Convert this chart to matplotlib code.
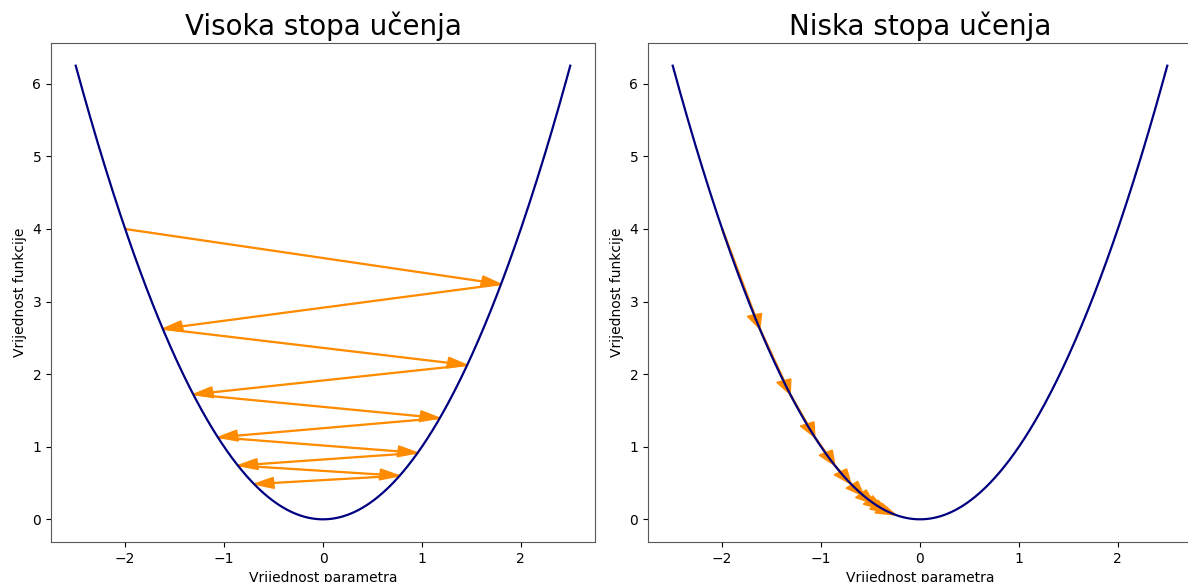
import numpy as np
import matplotlib.pyplot as plt

# parameter values visited by gradient descent
steps_high = [-2.0, 1.8, -1.62, 1.458, -1.312, 1.181, -1.063, 0.957, -0.861, 0.775, -0.697]
steps_low = [-2.0, -1.62, -1.312, -1.063, -0.861, -0.697, -0.565, -0.458, -0.371, -0.300, -0.243]
titles = ["Visoka stopa učenja", "Niska stopa učenja"]
x_label = "Vrijednost parametra"
y_label = "Vrijednost funkcije"


def f(x):
    return x ** 2


xs = np.linspace(-2.5, 2.5, 400)

fig = plt.figure(figsize=(11.88, 5.82), dpi=100)
axes = [fig.add_axes([51 / 1188, 40 / 582, 544 / 1188, 499 / 582]),
        fig.add_axes([648 / 1188, 40 / 582, 544 / 1188, 499 / 582])]

for ax, steps, title in zip(axes, [steps_high, steps_low], titles):
    ax.plot(xs, f(xs), color="navy", lw=1.6)
    for a, b in zip(steps[:-1], steps[1:]):
        ax.arrow(a, f(a), b - a, f(b) - f(a), color="darkorange",
                 width=0.012, head_width=0.15, head_length=0.2,
                 length_includes_head=True)
    ax.set_title(title, fontsize=20)
    ax.set_xlabel(x_label)
    ax.set_ylabel(y_label)
    for s in ax.spines.values():
        s.set_color("0.35")

plt.savefig("out.png", dpi=100)
